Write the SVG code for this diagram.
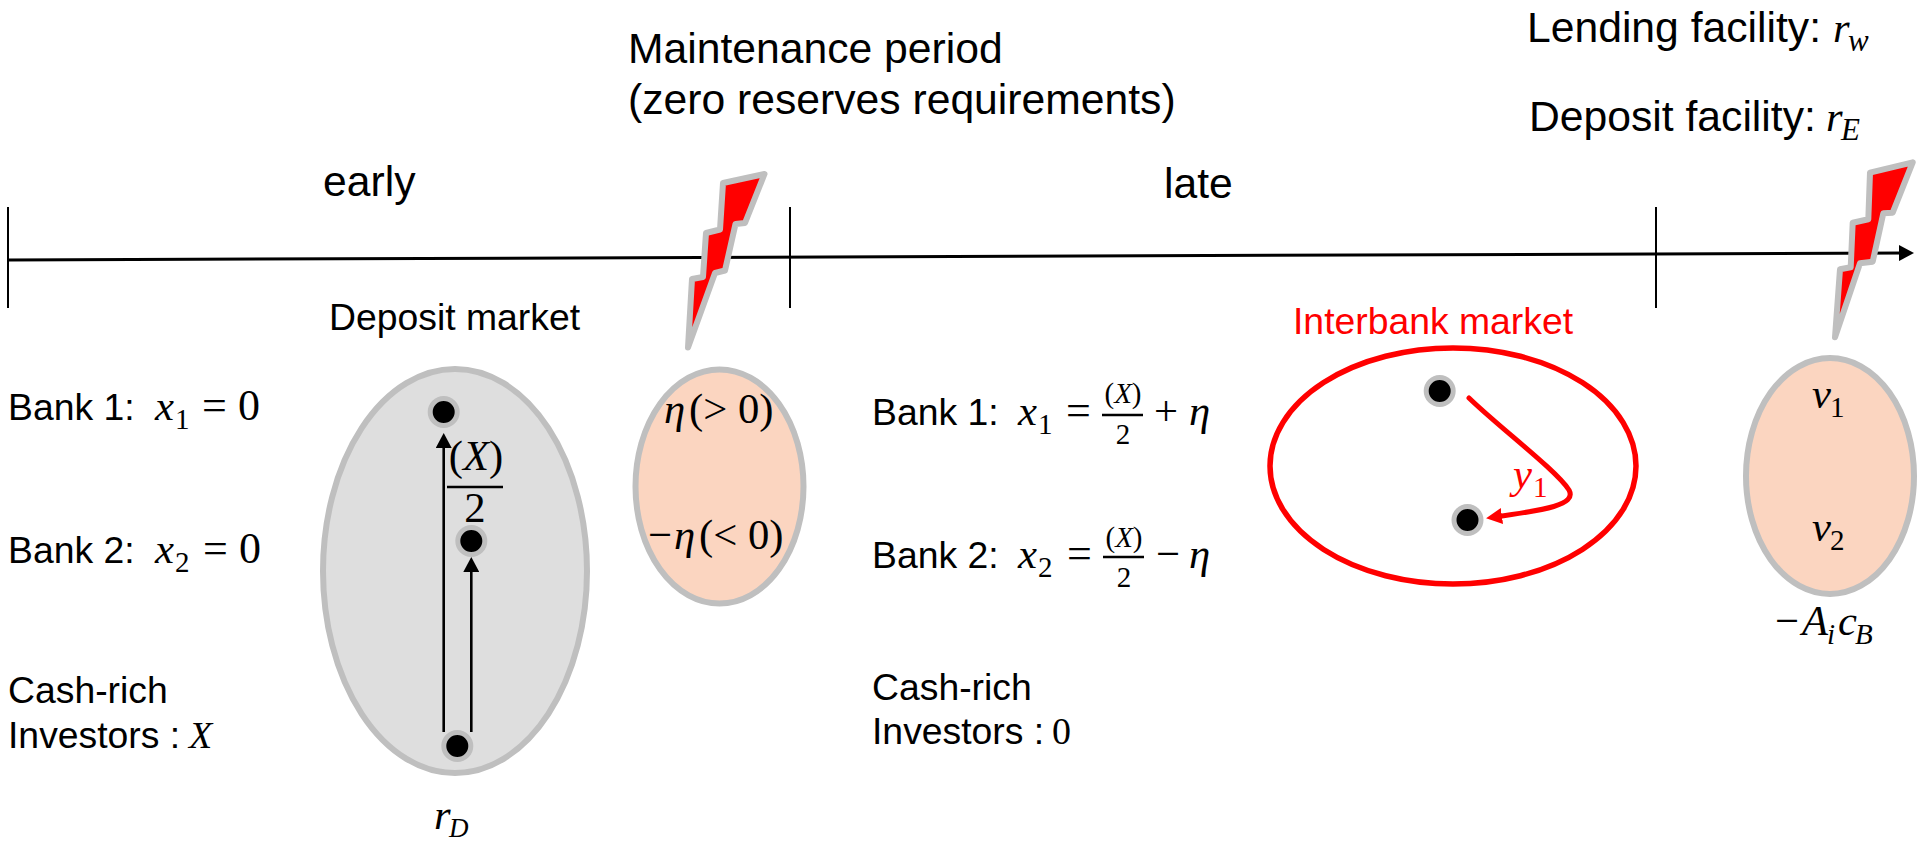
<svg xmlns="http://www.w3.org/2000/svg" width="1920" height="843" viewBox="0 0 1920 843">
<defs>
<style>
text{font-family:"Liberation Sans",Arial,sans-serif;fill:#000}
.t40{font-size:42.67px}
.t36{font-size:37.33px}
.m{font-family:"Liberation Serif","Times New Roman",serif;font-size:42.67px;font-style:italic}
.n{font-family:"Liberation Serif","Times New Roman",serif;font-style:normal}
.e{font-size:44px}
.s{font-size:29px}
.f{font-family:"Liberation Serif","Times New Roman",serif;font-size:29px}
.red{fill:#f00}
.bolt{fill:#f00;stroke:#bfbfbf;stroke-width:6;stroke-linejoin:round}
.oval{stroke:#bfbfbf;stroke-width:6}
.grey{fill:#dedede}
.peach{fill:#fbd5c0}
.dot{fill:#000;stroke:#bfbfbf;stroke-width:5}
.tick{stroke:#000;stroke-width:2;fill:none}
.arr{stroke:#000;stroke-width:2.6;fill:none;marker-end:url(#ah)}
.bar{stroke:#000;stroke-width:2.4}
</style>
<marker id="ah" markerUnits="userSpaceOnUse" markerWidth="16" markerHeight="16" refX="7" refY="8" orient="auto"><path d="M0 0L15 8L0 16Z" fill="#000"/></marker>
<marker id="rh" markerUnits="userSpaceOnUse" markerWidth="17" markerHeight="16" refX="7" refY="8" orient="auto"><path d="M0 0L16 8L0 16Z" fill="#f00"/></marker>
</defs>
<g id="connectors">
<line class="tick" x1="8" y1="207" x2="8" y2="308"/>
<line class="tick" x1="790" y1="207" x2="790" y2="308"/>
<line class="tick" x1="1656" y1="207" x2="1656" y2="308"/>
<line class="arr" x1="8" y1="260" x2="1906" y2="253" style="stroke-width:3"/>
</g>
<g id="labels">
<text class="t40" x="628" y="63">Maintenance period</text>
<text class="t40" x="628" y="114">(zero reserves requirements)</text>
<text class="t40" x="323" y="196">early</text>
<text class="t40" x="1164" y="198">late</text>
<text class="t36" x="329" y="330">Deposit market</text>
</g>
<g id="lending"><text class="t40" x="1527" y="42">Lending facility: <tspan class="m" x="1833">r</tspan><tspan class="m s" x="1848" y="51" style="font-size:31px">w</tspan></text></g>
<g id="deposit"><text class="t40" x="1529" y="131">Deposit facility: <tspan class="m" x="1826">r</tspan><tspan class="m s" x="1841" y="140" style="font-size:31px">E</tspan></text></g>
<g id="bolt1"><path class="bolt" d="M764.5 174L723 183L720 229.5L706 233L703 277L692 279L688 347.5L715 273L725 270.5L735.5 224L745 223Z"/></g>
<g id="bolt2"><path class="bolt" d="M1912.7 162.3L1870 172.7L1868.3 219.3L1852.7 222.7L1850.7 267.3L1840 269.3L1835 337.3L1860 263.3L1872.7 261.7L1883.3 213.3L1892.7 212.7Z"/></g>
<g id="early-bank1"><text class="t36" x="8" y="420">Bank 1:<tspan class="m" x="155">x</tspan><tspan class="n s" x="175" y="429">1</tspan><tspan class="n e" x="202" y="420">=</tspan><tspan class="n e" x="238">0</tspan></text></g>
<g id="early-bank2"><text class="t36" x="8" y="563">Bank 2:<tspan class="m" x="155">x</tspan><tspan class="n s" x="175" y="572">2</tspan><tspan class="n e" x="203" y="563">=</tspan><tspan class="n e" x="239">0</tspan></text></g>
<g id="early-investors"><text class="t36" x="8" y="703">Cash-rich</text><text class="t36" x="8" y="748">Investors :<tspan class="m" x="189" style="font-size:38px">X</tspan></text></g>
<g id="deposit-market">
<ellipse class="oval grey" cx="455" cy="571" rx="132" ry="202"/>
<line class="arr" x1="443.7" y1="732" x2="443.7" y2="441"/>
<line class="arr" x1="471.3" y1="732" x2="471.3" y2="565"/>
<circle class="dot" cx="443.7" cy="412" r="13.5"/>
<circle class="dot" cx="471.3" cy="541" r="13.5"/>
<circle class="dot" cx="457.3" cy="746" r="13.5"/>
<line class="bar" x1="447" y1="487" x2="503" y2="487"/>
<text class="m" x="476" y="470" text-anchor="middle"><tspan class="n">(</tspan>X<tspan class="n">)</tspan></text>
<text class="m n" x="475" y="522" text-anchor="middle">2</text>
</g>
<g id="rd"><text class="m" x="434" y="829">r<tspan class="s" x="449" y="837" style="font-size:27px">D</tspan></text></g>
<g id="shock1">
<ellipse class="oval peach" cx="719.5" cy="486.5" rx="84" ry="117"/>
<text class="m" x="664" y="423">η<tspan class="n" x="689">(&gt; 0)</tspan></text>
<text class="m" x="648" y="549"><tspan class="n">−</tspan><tspan x="674">η</tspan><tspan class="n" x="699">(&lt; 0)</tspan></text>
</g>
<g id="late-bank1">
<text class="t36" x="872" y="425">Bank 1:<tspan class="m" x="1018">x</tspan><tspan class="n s" x="1038" y="434">1</tspan><tspan class="n e" x="1066" y="425">=</tspan></text>
<line class="bar" x1="1102" y1="415" x2="1143" y2="415"/>
<text class="m f" x="1123" y="403" text-anchor="middle"><tspan class="n">(</tspan>X<tspan class="n">)</tspan></text>
<text class="f" x="1123" y="444" text-anchor="middle">2</text>
<text class="m" x="1154" y="425"><tspan class="n">+</tspan><tspan x="1189">η</tspan></text>
</g>
<g id="late-bank2">
<text class="t36" x="872" y="568">Bank 2:<tspan class="m" x="1018">x</tspan><tspan class="n s" x="1038" y="577">2</tspan><tspan class="n e" x="1067" y="568">=</tspan></text>
<line class="bar" x1="1103" y1="557" x2="1144" y2="557"/>
<text class="m f" x="1124" y="547" text-anchor="middle"><tspan class="n">(</tspan>X<tspan class="n">)</tspan></text>
<text class="f" x="1124" y="587" text-anchor="middle">2</text>
<text class="m" x="1156" y="568"><tspan class="n">−</tspan><tspan x="1189">η</tspan></text>
</g>
<g id="late-investors"><text class="t36" x="872" y="700">Cash-rich</text><text class="t36" x="872" y="744">Investors :<tspan class="n" x="1052" style="font-size:38px">0</tspan></text></g>
<g id="interbank-market">
<text class="t36 red" x="1293" y="334">Interbank market</text>
<ellipse cx="1453" cy="466" rx="183" ry="118" fill="none" stroke="#f00" stroke-width="5.5"/>
<circle class="dot" cx="1439.7" cy="391" r="13.5"/>
<circle class="dot" cx="1467.5" cy="520" r="13.5"/>
<path d="M1469 398C1500 428 1556 470 1569 490C1577 505 1545 510 1495 517" fill="none" stroke="#f00" stroke-width="5" stroke-linecap="round" marker-end="url(#rh)"/>
<text class="m red" x="1513" y="488">y<tspan class="n s red" x="1533" y="497">1</tspan></text>
</g>
<g id="shock2">
<ellipse class="oval peach" cx="1830" cy="476" rx="84" ry="118"/>
<text class="m" x="1812" y="408">v<tspan class="n s" x="1830" y="417">1</tspan></text>
<text class="m" x="1812" y="541">v<tspan class="n s" x="1830" y="550">2</tspan></text>
</g>
<g id="cost"><text class="m" x="1775" y="635"><tspan class="n">−</tspan><tspan x="1802">A</tspan><tspan class="s" x="1827" y="644">i</tspan><tspan x="1838" y="635">c</tspan><tspan class="s" x="1855" y="644">B</tspan></text></g>
</svg>
